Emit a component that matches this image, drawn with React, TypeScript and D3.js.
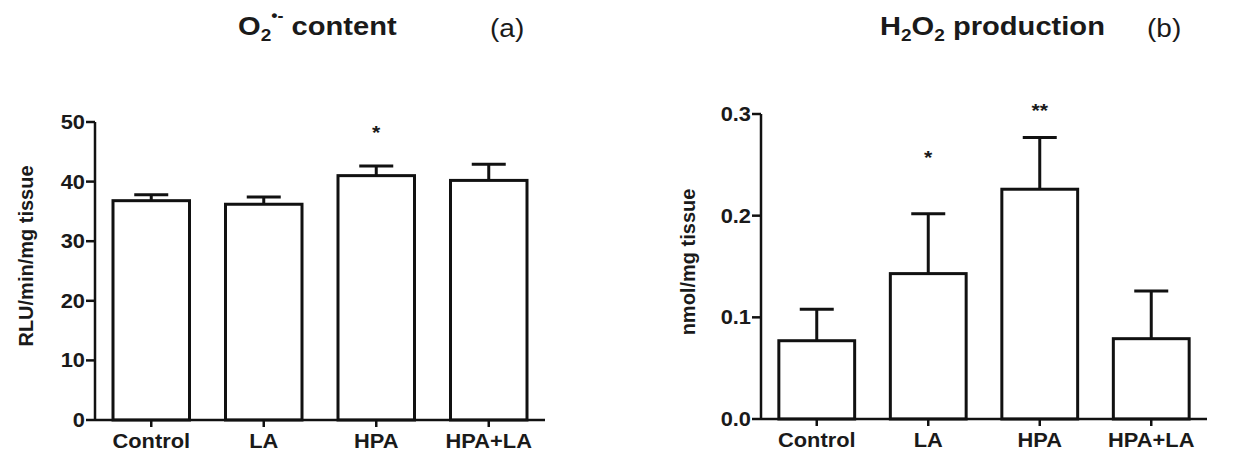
import React from "react";
import * as d3 from "d3";

const groups = ["Control", "LA", "HPA", "HPA+LA"];

// panel (a) O2 content, RLU/min/mg tissue
const o2Mean = [36.8, 36.2, 41.0, 40.2];
const o2Err = [1.0, 1.2, 1.6, 2.7];
const o2Marks = ["", "", "*", ""];
const o2MarkAt = [0, 0, 49.2, 0];
const o2Ticks = [0, 10, 20, 30, 40, 50];

// panel (b) H2O2 production, nmol/mg tissue
const h2o2Mean = [0.077, 0.143, 0.226, 0.079];
const h2o2Err = [0.031, 0.059, 0.051, 0.047];
const h2o2Marks = ["", "*", "**", ""];
const h2o2MarkAt = [0, 0.263, 0.309, 0];
const h2o2Ticks = [0.0, 0.1, 0.2, 0.3];

const W = 1235;
const H = 462;
const font = "'Liberation Sans', Arial, sans-serif";
const SX = 1.12; // the source picture is a bit stretched sideways

// text stretched horizontally around its anchor
const T = ({ x, y, size, bold = true, anchor = "start", dy = undefined, children }) => (
  <text
    transform={`translate(${x}, ${y}) scale(${SX}, 1)`}
    dy={dy}
    textAnchor={anchor}
    fontFamily={font}
    fontSize={size}
    fontWeight={bold ? "bold" : "normal"}
    fill="#1a1a1a"
  >
    {children}
  </text>
);

const Panel = ({ left, right, top, bottom, domainMax, ticks, fmt, means, errs, marks, markAt, yLabel, labelX, labelY }) => {
  const x = d3
    .scaleBand()
    .domain(groups)
    .range([left, right])
    .paddingInner(0.32)
    .paddingOuter(0.16);
  const y = d3.scaleLinear().domain([0, domainMax]).range([bottom, top]);
  const capHalf = 17;

  return (
    <g>
      {/* bars */}
      {groups.map((g, i) => {
        const x0 = x(g);
        const cx = x0 + x.bandwidth() / 2;
        const yTop = y(means[i]);
        const yErr = y(means[i] + errs[i]);
        return (
          <g key={g}>
            <line x1={cx} x2={cx} y1={yTop} y2={yErr} stroke="#111" strokeWidth={3} />
            <line x1={cx - capHalf} x2={cx + capHalf} y1={yErr} y2={yErr} stroke="#111" strokeWidth={3} />
            <rect
              x={x0}
              y={yTop}
              width={x.bandwidth()}
              height={bottom - yTop}
              fill="#fff"
              stroke="#111"
              strokeWidth={3}
            />
            {marks[i] && (
              <T x={cx} y={y(markAt[i]) + 12} size={19} anchor="middle">
                {marks[i]}
              </T>
            )}
          </g>
        );
      })}

      {/* y axis */}
      <line x1={left} x2={left} y1={top} y2={bottom + 1} stroke="#111" strokeWidth={2.5} />
      {ticks.map((t) => (
        <g key={t}>
          <line x1={left - 9} x2={left} y1={y(t)} y2={y(t)} stroke="#111" strokeWidth={2.5} />
          <T x={left - 10} y={y(t)} dy="0.36em" size={19.5} anchor="end">
            {fmt(t)}
          </T>
        </g>
      ))}
      <text
        transform={`translate(${labelX}, ${labelY}) rotate(-90)`}
        textAnchor="middle"
        fontFamily={font}
        fontSize={20}
        fontWeight="bold"
        fill="#1a1a1a"
      >
        {yLabel}
      </text>

      {/* x axis */}
      <line x1={left} x2={right} y1={bottom} y2={bottom} stroke="#111" strokeWidth={2.5} />
      {groups.map((g) => {
        const cx = x(g) + x.bandwidth() / 2;
        return (
          <g key={g}>
            <line x1={cx} x2={cx} y1={bottom} y2={bottom + 7} stroke="#111" strokeWidth={2.5} />
            <T x={cx} y={bottom + 28} size={19.5} anchor="middle">
              {g}
            </T>
          </g>
        );
      })}
    </g>
  );
};

const App = () => {
  return (
    <svg
      width={W}
      height={H}
      style={{ position: "absolute", left: 0, top: 0, background: "#fff" }}
    >
      {/* titles */}
      <T x={238} y={35} size={26}>
        O<tspan fontSize={17} dy={6}>2</tspan>
        <tspan fontSize={16} dy={-20}>•-</tspan>
        <tspan dy={14}> content</tspan>
      </T>
      <T x={490} y={37} size={25} bold={false}>
        (a)
      </T>
      <T x={880} y={35} size={26}>
        H<tspan fontSize={17} dy={6}>2</tspan>
        <tspan dy={-6}>O</tspan>
        <tspan fontSize={17} dy={6}>2</tspan>
        <tspan dy={-6}> production</tspan>
      </T>
      <T x={1147} y={37} size={25} bold={false}>
        (b)
      </T>

      <Panel
        left={95}
        right={545}
        top={122}
        bottom={420}
        domainMax={50}
        ticks={o2Ticks}
        fmt={(t) => d3.format("d")(t)}
        means={o2Mean}
        errs={o2Err}
        marks={o2Marks}
        markAt={o2MarkAt}
        yLabel="RLU/min/mg tissue"
        labelX={33}
        labelY={256}
      />
      <Panel
        left={761}
        right={1207}
        top={114}
        bottom={419}
        domainMax={0.3}
        ticks={h2o2Ticks}
        fmt={(t) => d3.format(".1f")(t)}
        means={h2o2Mean}
        errs={h2o2Err}
        marks={h2o2Marks}
        markAt={h2o2MarkAt}
        yLabel="nmol/mg tissue"
        labelX={695}
        labelY={262}
      />
    </svg>
  );
};

export default App;
